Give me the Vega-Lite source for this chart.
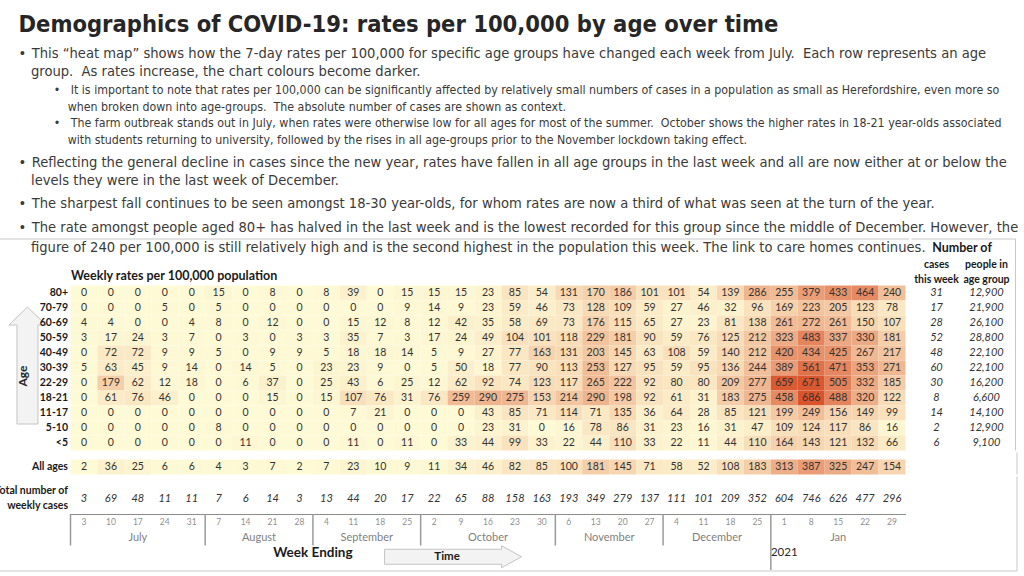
{
"$schema": "https://vega.github.io/schema/vega-lite/v6.json",
"background": "white",
"padding": {"left": -8.5, "top": 12.5, "right": 0, "bottom": 0},
"config": {"view": {"stroke": null}, "axis": {"grid": false, "labelFont": "Lato", "titleFont": "Lato"}},
"title": {
  "text": "Demographics of COVID-19: rates per 100,000 by age over time",
  "subtitle": ["•\u00a0\u200aThis “heat map” shows how the 7-day rates per 100,000 for specific age groups have changed each week from July.\u00a0 Each row represents an age", "\u200b\u00a0\u00a0\u00a0group.\u00a0 As rates increase, the chart colours become darker."],
  "anchor": "start", "frame": "group", "dx": -52,
  "font": "Liberation Sans Narrow, DejaVu Sans Condensed, Liberation Sans", "fontSize": 23.5, "fontWeight": "bold", "color": "#262626",
  "subtitleFont": "Liberation Sans Narrow, DejaVu Sans Condensed, Liberation Sans", "subtitleFontSize": 14.6, "subtitleColor": "#3a3a3a", "subtitleLineHeight": 18, "subtitlePadding": 9,
  "offset": 6
},
"datasets": {
  "heat": [
{"age":"80+","week":"2020-07-03","rate":0},{"age":"80+","week":"2020-07-10","rate":0},{"age":"80+","week":"2020-07-17","rate":0},{"age":"80+","week":"2020-07-24","rate":0},{"age":"80+","week":"2020-07-31","rate":0},{"age":"80+","week":"2020-08-07","rate":15},{"age":"80+","week":"2020-08-14","rate":0},{"age":"80+","week":"2020-08-21","rate":8},{"age":"80+","week":"2020-08-28","rate":0},{"age":"80+","week":"2020-09-04","rate":8},{"age":"80+","week":"2020-09-11","rate":39},{"age":"80+","week":"2020-09-18","rate":0},{"age":"80+","week":"2020-09-25","rate":15},{"age":"80+","week":"2020-10-02","rate":15},{"age":"80+","week":"2020-10-09","rate":15},{"age":"80+","week":"2020-10-16","rate":23},{"age":"80+","week":"2020-10-23","rate":85},{"age":"80+","week":"2020-10-30","rate":54},{"age":"80+","week":"2020-11-06","rate":131},{"age":"80+","week":"2020-11-13","rate":170},{"age":"80+","week":"2020-11-20","rate":186},{"age":"80+","week":"2020-11-27","rate":101},{"age":"80+","week":"2020-12-04","rate":101},{"age":"80+","week":"2020-12-11","rate":54},{"age":"80+","week":"2020-12-18","rate":139},{"age":"80+","week":"2020-12-25","rate":286},{"age":"80+","week":"2021-01-01","rate":255},{"age":"80+","week":"2021-01-08","rate":379},{"age":"80+","week":"2021-01-15","rate":433},{"age":"80+","week":"2021-01-22","rate":464},{"age":"80+","week":"2021-01-29","rate":240},
{"age":"70-79","week":"2020-07-03","rate":0},{"age":"70-79","week":"2020-07-10","rate":0},{"age":"70-79","week":"2020-07-17","rate":0},{"age":"70-79","week":"2020-07-24","rate":5},{"age":"70-79","week":"2020-07-31","rate":0},{"age":"70-79","week":"2020-08-07","rate":5},{"age":"70-79","week":"2020-08-14","rate":0},{"age":"70-79","week":"2020-08-21","rate":0},{"age":"70-79","week":"2020-08-28","rate":0},{"age":"70-79","week":"2020-09-04","rate":0},{"age":"70-79","week":"2020-09-11","rate":0},{"age":"70-79","week":"2020-09-18","rate":0},{"age":"70-79","week":"2020-09-25","rate":9},{"age":"70-79","week":"2020-10-02","rate":14},{"age":"70-79","week":"2020-10-09","rate":9},{"age":"70-79","week":"2020-10-16","rate":23},{"age":"70-79","week":"2020-10-23","rate":59},{"age":"70-79","week":"2020-10-30","rate":46},{"age":"70-79","week":"2020-11-06","rate":73},{"age":"70-79","week":"2020-11-13","rate":128},{"age":"70-79","week":"2020-11-20","rate":109},{"age":"70-79","week":"2020-11-27","rate":59},{"age":"70-79","week":"2020-12-04","rate":27},{"age":"70-79","week":"2020-12-11","rate":46},{"age":"70-79","week":"2020-12-18","rate":32},{"age":"70-79","week":"2020-12-25","rate":96},{"age":"70-79","week":"2021-01-01","rate":169},{"age":"70-79","week":"2021-01-08","rate":223},{"age":"70-79","week":"2021-01-15","rate":205},{"age":"70-79","week":"2021-01-22","rate":123},{"age":"70-79","week":"2021-01-29","rate":78},
{"age":"60-69","week":"2020-07-03","rate":4},{"age":"60-69","week":"2020-07-10","rate":4},{"age":"60-69","week":"2020-07-17","rate":0},{"age":"60-69","week":"2020-07-24","rate":0},{"age":"60-69","week":"2020-07-31","rate":4},{"age":"60-69","week":"2020-08-07","rate":8},{"age":"60-69","week":"2020-08-14","rate":0},{"age":"60-69","week":"2020-08-21","rate":12},{"age":"60-69","week":"2020-08-28","rate":0},{"age":"60-69","week":"2020-09-04","rate":0},{"age":"60-69","week":"2020-09-11","rate":15},{"age":"60-69","week":"2020-09-18","rate":12},{"age":"60-69","week":"2020-09-25","rate":8},{"age":"60-69","week":"2020-10-02","rate":12},{"age":"60-69","week":"2020-10-09","rate":42},{"age":"60-69","week":"2020-10-16","rate":35},{"age":"60-69","week":"2020-10-23","rate":58},{"age":"60-69","week":"2020-10-30","rate":69},{"age":"60-69","week":"2020-11-06","rate":73},{"age":"60-69","week":"2020-11-13","rate":176},{"age":"60-69","week":"2020-11-20","rate":115},{"age":"60-69","week":"2020-11-27","rate":65},{"age":"60-69","week":"2020-12-04","rate":27},{"age":"60-69","week":"2020-12-11","rate":23},{"age":"60-69","week":"2020-12-18","rate":81},{"age":"60-69","week":"2020-12-25","rate":138},{"age":"60-69","week":"2021-01-01","rate":261},{"age":"60-69","week":"2021-01-08","rate":272},{"age":"60-69","week":"2021-01-15","rate":261},{"age":"60-69","week":"2021-01-22","rate":150},{"age":"60-69","week":"2021-01-29","rate":107},
{"age":"50-59","week":"2020-07-03","rate":3},{"age":"50-59","week":"2020-07-10","rate":17},{"age":"50-59","week":"2020-07-17","rate":24},{"age":"50-59","week":"2020-07-24","rate":3},{"age":"50-59","week":"2020-07-31","rate":7},{"age":"50-59","week":"2020-08-07","rate":0},{"age":"50-59","week":"2020-08-14","rate":3},{"age":"50-59","week":"2020-08-21","rate":0},{"age":"50-59","week":"2020-08-28","rate":3},{"age":"50-59","week":"2020-09-04","rate":3},{"age":"50-59","week":"2020-09-11","rate":35},{"age":"50-59","week":"2020-09-18","rate":7},{"age":"50-59","week":"2020-09-25","rate":3},{"age":"50-59","week":"2020-10-02","rate":17},{"age":"50-59","week":"2020-10-09","rate":24},{"age":"50-59","week":"2020-10-16","rate":49},{"age":"50-59","week":"2020-10-23","rate":104},{"age":"50-59","week":"2020-10-30","rate":101},{"age":"50-59","week":"2020-11-06","rate":118},{"age":"50-59","week":"2020-11-13","rate":229},{"age":"50-59","week":"2020-11-20","rate":181},{"age":"50-59","week":"2020-11-27","rate":90},{"age":"50-59","week":"2020-12-04","rate":59},{"age":"50-59","week":"2020-12-11","rate":76},{"age":"50-59","week":"2020-12-18","rate":125},{"age":"50-59","week":"2020-12-25","rate":212},{"age":"50-59","week":"2021-01-01","rate":323},{"age":"50-59","week":"2021-01-08","rate":483},{"age":"50-59","week":"2021-01-15","rate":337},{"age":"50-59","week":"2021-01-22","rate":330},{"age":"50-59","week":"2021-01-29","rate":181},
{"age":"40-49","week":"2020-07-03","rate":0},{"age":"40-49","week":"2020-07-10","rate":72},{"age":"40-49","week":"2020-07-17","rate":72},{"age":"40-49","week":"2020-07-24","rate":9},{"age":"40-49","week":"2020-07-31","rate":9},{"age":"40-49","week":"2020-08-07","rate":5},{"age":"40-49","week":"2020-08-14","rate":0},{"age":"40-49","week":"2020-08-21","rate":9},{"age":"40-49","week":"2020-08-28","rate":9},{"age":"40-49","week":"2020-09-04","rate":5},{"age":"40-49","week":"2020-09-11","rate":18},{"age":"40-49","week":"2020-09-18","rate":18},{"age":"40-49","week":"2020-09-25","rate":14},{"age":"40-49","week":"2020-10-02","rate":5},{"age":"40-49","week":"2020-10-09","rate":9},{"age":"40-49","week":"2020-10-16","rate":27},{"age":"40-49","week":"2020-10-23","rate":77},{"age":"40-49","week":"2020-10-30","rate":163},{"age":"40-49","week":"2020-11-06","rate":131},{"age":"40-49","week":"2020-11-13","rate":203},{"age":"40-49","week":"2020-11-20","rate":145},{"age":"40-49","week":"2020-11-27","rate":63},{"age":"40-49","week":"2020-12-04","rate":108},{"age":"40-49","week":"2020-12-11","rate":59},{"age":"40-49","week":"2020-12-18","rate":140},{"age":"40-49","week":"2020-12-25","rate":212},{"age":"40-49","week":"2021-01-01","rate":420},{"age":"40-49","week":"2021-01-08","rate":434},{"age":"40-49","week":"2021-01-15","rate":425},{"age":"40-49","week":"2021-01-22","rate":267},{"age":"40-49","week":"2021-01-29","rate":217},
{"age":"30-39","week":"2020-07-03","rate":5},{"age":"30-39","week":"2020-07-10","rate":63},{"age":"30-39","week":"2020-07-17","rate":45},{"age":"30-39","week":"2020-07-24","rate":9},{"age":"30-39","week":"2020-07-31","rate":14},{"age":"30-39","week":"2020-08-07","rate":0},{"age":"30-39","week":"2020-08-14","rate":14},{"age":"30-39","week":"2020-08-21","rate":5},{"age":"30-39","week":"2020-08-28","rate":0},{"age":"30-39","week":"2020-09-04","rate":23},{"age":"30-39","week":"2020-09-11","rate":23},{"age":"30-39","week":"2020-09-18","rate":9},{"age":"30-39","week":"2020-09-25","rate":0},{"age":"30-39","week":"2020-10-02","rate":5},{"age":"30-39","week":"2020-10-09","rate":50},{"age":"30-39","week":"2020-10-16","rate":18},{"age":"30-39","week":"2020-10-23","rate":77},{"age":"30-39","week":"2020-10-30","rate":90},{"age":"30-39","week":"2020-11-06","rate":113},{"age":"30-39","week":"2020-11-13","rate":253},{"age":"30-39","week":"2020-11-20","rate":127},{"age":"30-39","week":"2020-11-27","rate":95},{"age":"30-39","week":"2020-12-04","rate":59},{"age":"30-39","week":"2020-12-11","rate":95},{"age":"30-39","week":"2020-12-18","rate":136},{"age":"30-39","week":"2020-12-25","rate":244},{"age":"30-39","week":"2021-01-01","rate":389},{"age":"30-39","week":"2021-01-08","rate":561},{"age":"30-39","week":"2021-01-15","rate":471},{"age":"30-39","week":"2021-01-22","rate":353},{"age":"30-39","week":"2021-01-29","rate":271},
{"age":"22-29","week":"2020-07-03","rate":0},{"age":"22-29","week":"2020-07-10","rate":179},{"age":"22-29","week":"2020-07-17","rate":62},{"age":"22-29","week":"2020-07-24","rate":12},{"age":"22-29","week":"2020-07-31","rate":18},{"age":"22-29","week":"2020-08-07","rate":0},{"age":"22-29","week":"2020-08-14","rate":6},{"age":"22-29","week":"2020-08-21","rate":37},{"age":"22-29","week":"2020-08-28","rate":0},{"age":"22-29","week":"2020-09-04","rate":25},{"age":"22-29","week":"2020-09-11","rate":43},{"age":"22-29","week":"2020-09-18","rate":6},{"age":"22-29","week":"2020-09-25","rate":25},{"age":"22-29","week":"2020-10-02","rate":12},{"age":"22-29","week":"2020-10-09","rate":62},{"age":"22-29","week":"2020-10-16","rate":92},{"age":"22-29","week":"2020-10-23","rate":74},{"age":"22-29","week":"2020-10-30","rate":123},{"age":"22-29","week":"2020-11-06","rate":117},{"age":"22-29","week":"2020-11-13","rate":265},{"age":"22-29","week":"2020-11-20","rate":222},{"age":"22-29","week":"2020-11-27","rate":92},{"age":"22-29","week":"2020-12-04","rate":80},{"age":"22-29","week":"2020-12-11","rate":80},{"age":"22-29","week":"2020-12-18","rate":209},{"age":"22-29","week":"2020-12-25","rate":277},{"age":"22-29","week":"2021-01-01","rate":659},{"age":"22-29","week":"2021-01-08","rate":671},{"age":"22-29","week":"2021-01-15","rate":505},{"age":"22-29","week":"2021-01-22","rate":332},{"age":"22-29","week":"2021-01-29","rate":185},
{"age":"18-21","week":"2020-07-03","rate":0},{"age":"18-21","week":"2020-07-10","rate":61},{"age":"18-21","week":"2020-07-17","rate":76},{"age":"18-21","week":"2020-07-24","rate":46},{"age":"18-21","week":"2020-07-31","rate":0},{"age":"18-21","week":"2020-08-07","rate":0},{"age":"18-21","week":"2020-08-14","rate":0},{"age":"18-21","week":"2020-08-21","rate":15},{"age":"18-21","week":"2020-08-28","rate":0},{"age":"18-21","week":"2020-09-04","rate":15},{"age":"18-21","week":"2020-09-11","rate":107},{"age":"18-21","week":"2020-09-18","rate":76},{"age":"18-21","week":"2020-09-25","rate":31},{"age":"18-21","week":"2020-10-02","rate":76},{"age":"18-21","week":"2020-10-09","rate":259},{"age":"18-21","week":"2020-10-16","rate":290},{"age":"18-21","week":"2020-10-23","rate":275},{"age":"18-21","week":"2020-10-30","rate":153},{"age":"18-21","week":"2020-11-06","rate":214},{"age":"18-21","week":"2020-11-13","rate":290},{"age":"18-21","week":"2020-11-20","rate":198},{"age":"18-21","week":"2020-11-27","rate":92},{"age":"18-21","week":"2020-12-04","rate":61},{"age":"18-21","week":"2020-12-11","rate":31},{"age":"18-21","week":"2020-12-18","rate":183},{"age":"18-21","week":"2020-12-25","rate":275},{"age":"18-21","week":"2021-01-01","rate":458},{"age":"18-21","week":"2021-01-08","rate":686},{"age":"18-21","week":"2021-01-15","rate":488},{"age":"18-21","week":"2021-01-22","rate":320},{"age":"18-21","week":"2021-01-29","rate":122},
{"age":"11-17","week":"2020-07-03","rate":0},{"age":"11-17","week":"2020-07-10","rate":0},{"age":"11-17","week":"2020-07-17","rate":0},{"age":"11-17","week":"2020-07-24","rate":0},{"age":"11-17","week":"2020-07-31","rate":0},{"age":"11-17","week":"2020-08-07","rate":0},{"age":"11-17","week":"2020-08-14","rate":0},{"age":"11-17","week":"2020-08-21","rate":0},{"age":"11-17","week":"2020-08-28","rate":0},{"age":"11-17","week":"2020-09-04","rate":0},{"age":"11-17","week":"2020-09-11","rate":7},{"age":"11-17","week":"2020-09-18","rate":21},{"age":"11-17","week":"2020-09-25","rate":0},{"age":"11-17","week":"2020-10-02","rate":0},{"age":"11-17","week":"2020-10-09","rate":0},{"age":"11-17","week":"2020-10-16","rate":43},{"age":"11-17","week":"2020-10-23","rate":85},{"age":"11-17","week":"2020-10-30","rate":71},{"age":"11-17","week":"2020-11-06","rate":114},{"age":"11-17","week":"2020-11-13","rate":71},{"age":"11-17","week":"2020-11-20","rate":135},{"age":"11-17","week":"2020-11-27","rate":36},{"age":"11-17","week":"2020-12-04","rate":64},{"age":"11-17","week":"2020-12-11","rate":28},{"age":"11-17","week":"2020-12-18","rate":85},{"age":"11-17","week":"2020-12-25","rate":121},{"age":"11-17","week":"2021-01-01","rate":199},{"age":"11-17","week":"2021-01-08","rate":249},{"age":"11-17","week":"2021-01-15","rate":156},{"age":"11-17","week":"2021-01-22","rate":149},{"age":"11-17","week":"2021-01-29","rate":99},
{"age":"5-10","week":"2020-07-03","rate":0},{"age":"5-10","week":"2020-07-10","rate":0},{"age":"5-10","week":"2020-07-17","rate":0},{"age":"5-10","week":"2020-07-24","rate":0},{"age":"5-10","week":"2020-07-31","rate":0},{"age":"5-10","week":"2020-08-07","rate":8},{"age":"5-10","week":"2020-08-14","rate":0},{"age":"5-10","week":"2020-08-21","rate":0},{"age":"5-10","week":"2020-08-28","rate":0},{"age":"5-10","week":"2020-09-04","rate":0},{"age":"5-10","week":"2020-09-11","rate":0},{"age":"5-10","week":"2020-09-18","rate":0},{"age":"5-10","week":"2020-09-25","rate":0},{"age":"5-10","week":"2020-10-02","rate":0},{"age":"5-10","week":"2020-10-09","rate":0},{"age":"5-10","week":"2020-10-16","rate":23},{"age":"5-10","week":"2020-10-23","rate":31},{"age":"5-10","week":"2020-10-30","rate":0},{"age":"5-10","week":"2020-11-06","rate":16},{"age":"5-10","week":"2020-11-13","rate":78},{"age":"5-10","week":"2020-11-20","rate":86},{"age":"5-10","week":"2020-11-27","rate":31},{"age":"5-10","week":"2020-12-04","rate":23},{"age":"5-10","week":"2020-12-11","rate":16},{"age":"5-10","week":"2020-12-18","rate":31},{"age":"5-10","week":"2020-12-25","rate":47},{"age":"5-10","week":"2021-01-01","rate":109},{"age":"5-10","week":"2021-01-08","rate":124},{"age":"5-10","week":"2021-01-15","rate":117},{"age":"5-10","week":"2021-01-22","rate":86},{"age":"5-10","week":"2021-01-29","rate":16},
{"age":"<5","week":"2020-07-03","rate":0},{"age":"<5","week":"2020-07-10","rate":0},{"age":"<5","week":"2020-07-17","rate":0},{"age":"<5","week":"2020-07-24","rate":0},{"age":"<5","week":"2020-07-31","rate":0},{"age":"<5","week":"2020-08-07","rate":0},{"age":"<5","week":"2020-08-14","rate":11},{"age":"<5","week":"2020-08-21","rate":0},{"age":"<5","week":"2020-08-28","rate":0},{"age":"<5","week":"2020-09-04","rate":0},{"age":"<5","week":"2020-09-11","rate":11},{"age":"<5","week":"2020-09-18","rate":0},{"age":"<5","week":"2020-09-25","rate":11},{"age":"<5","week":"2020-10-02","rate":0},{"age":"<5","week":"2020-10-09","rate":33},{"age":"<5","week":"2020-10-16","rate":44},{"age":"<5","week":"2020-10-23","rate":99},{"age":"<5","week":"2020-10-30","rate":33},{"age":"<5","week":"2020-11-06","rate":22},{"age":"<5","week":"2020-11-13","rate":44},{"age":"<5","week":"2020-11-20","rate":110},{"age":"<5","week":"2020-11-27","rate":33},{"age":"<5","week":"2020-12-04","rate":22},{"age":"<5","week":"2020-12-11","rate":11},{"age":"<5","week":"2020-12-18","rate":44},{"age":"<5","week":"2020-12-25","rate":110},{"age":"<5","week":"2021-01-01","rate":164},{"age":"<5","week":"2021-01-08","rate":143},{"age":"<5","week":"2021-01-15","rate":121},{"age":"<5","week":"2021-01-22","rate":132},{"age":"<5","week":"2021-01-29","rate":66}
  ],
  "weeks": [
{"week":"2020-07-03","day":3,"all":2,"total":3},{"week":"2020-07-10","day":10,"all":36,"total":69},{"week":"2020-07-17","day":17,"all":25,"total":48},{"week":"2020-07-24","day":24,"all":6,"total":11},{"week":"2020-07-31","day":31,"all":6,"total":11},
{"week":"2020-08-07","day":7,"all":4,"total":7},{"week":"2020-08-14","day":14,"all":3,"total":6},{"week":"2020-08-21","day":21,"all":7,"total":14},{"week":"2020-08-28","day":28,"all":2,"total":3},
{"week":"2020-09-04","day":4,"all":7,"total":13},{"week":"2020-09-11","day":11,"all":23,"total":44},{"week":"2020-09-18","day":18,"all":10,"total":20},{"week":"2020-09-25","day":25,"all":9,"total":17},
{"week":"2020-10-02","day":2,"all":11,"total":22},{"week":"2020-10-09","day":9,"all":34,"total":65},{"week":"2020-10-16","day":16,"all":46,"total":88},{"week":"2020-10-23","day":23,"all":82,"total":158},{"week":"2020-10-30","day":30,"all":85,"total":163},
{"week":"2020-11-06","day":6,"all":100,"total":193},{"week":"2020-11-13","day":13,"all":181,"total":349},{"week":"2020-11-20","day":20,"all":145,"total":279},{"week":"2020-11-27","day":27,"all":71,"total":137},
{"week":"2020-12-04","day":4,"all":58,"total":111},{"week":"2020-12-11","day":11,"all":52,"total":101},{"week":"2020-12-18","day":18,"all":108,"total":209},{"week":"2020-12-25","day":25,"all":183,"total":352},
{"week":"2021-01-01","day":1,"all":313,"total":604},{"week":"2021-01-08","day":8,"all":387,"total":746},{"week":"2021-01-15","day":15,"all":325,"total":626},{"week":"2021-01-22","day":22,"all":247,"total":477},{"week":"2021-01-29","day":29,"all":154,"total":296}
  ],
  "ages": [
{"age":"80+","cases":31,"people":12900},{"age":"70-79","cases":17,"people":21900},{"age":"60-69","cases":28,"people":26100},{"age":"50-59","cases":52,"people":28800},{"age":"40-49","cases":48,"people":22100},{"age":"30-39","cases":60,"people":22100},{"age":"22-29","cases":30,"people":16200},{"age":"18-21","cases":8,"people":6600},{"age":"11-17","cases":14,"people":14100},{"age":"5-10","cases":2,"people":12900},{"age":"<5","cases":6,"people":9100}
  ],
  "months": [
{"month":"July","first":"2020-07-03","mid":"2020-07-17","n":5},{"month":"August","first":"2020-08-07","mid":"2020-08-21","n":4},{"month":"September","first":"2020-09-04","mid":"2020-09-18","n":4},{"month":"October","first":"2020-10-02","mid":"2020-10-16","n":5},{"month":"November","first":"2020-11-06","mid":"2020-11-20","n":4},{"month":"December","first":"2020-12-04","mid":"2020-12-18","n":4},{"month":"Jan","first":"2021-01-01","mid":"2021-01-15","n":5}
  ]
},
"spacing": 0,
"vconcat": [
  {
    "width": 10, "height": 8,
    "data": {"values": []},
    "mark": "text",
    "title": {
      "text": ["\u200b\u00a0\u00a0\u00a0\u00a0\u00a0\u00a0\u00a0\u00a0\u00a0\u00a0•\u00a0\u00a0\u00a0It is important to note that rates per 100,000 can be significantly affected by relatively small numbers of cases in a population as small as Herefordshire, even more so",
               "\u200b\u00a0\u00a0\u00a0\u00a0\u00a0\u00a0\u00a0\u00a0\u00a0\u00a0\u00a0\u00a0\u00a0\u00a0when broken down into age-groups.\u00a0 The absolute number of cases are shown as context.",
               "\u200b\u00a0\u00a0\u00a0\u00a0\u00a0\u00a0\u00a0\u00a0\u00a0\u00a0•\u00a0\u00a0\u00a0The farm outbreak stands out in July, when rates were otherwise low for all ages for most of the summer.\u00a0 October shows the higher rates in 18-21 year-olds associated",
               "\u200b\u00a0\u00a0\u00a0\u00a0\u00a0\u00a0\u00a0\u00a0\u00a0\u00a0\u00a0\u00a0\u00a0\u00a0with students returning to university, followed by the rises in all age-groups prior to the November lockdown taking effect."],
      "subtitle": ["•\u00a0\u200aReflecting the general decline in cases since the new year, rates have fallen in all age groups in the last week and all are now either at or below the",
                   "\u200b\u00a0\u00a0\u00a0levels they were in the last week of December."],
      "anchor": "start", "frame": "group", "dx": -52,
      "font": "Liberation Sans Narrow, DejaVu Sans Condensed, Liberation Sans", "fontSize": 12.3, "fontWeight": "normal", "color": "#3a3a3a", "lineHeight": 16.5,
      "subtitleFont": "Liberation Sans Narrow, DejaVu Sans Condensed, Liberation Sans", "subtitleFontSize": 14.6, "subtitleColor": "#3a3a3a", "subtitleLineHeight": 18, "subtitlePadding": 9,
      "offset": 0
    }
  },
  {
    "title": {
      "text": ["•\u00a0\u200aThe sharpest fall continues to be seen amongst 18-30 year-olds, for whom rates are now a third of what was seen at the turn of the year."],
      "subtitle": ["•\u00a0\u200aThe rate amongst people aged 80+ has halved in the last week and is the lowest recorded for this group since the middle of December. However, the",
                   "\u200b\u00a0\u00a0\u00a0figure of 240 per 100,000 is still relatively high and is the second highest in the population this week. The link to care homes continues."],
      "anchor": "start", "frame": "group", "dx": -52,
      "font": "Liberation Sans Narrow, DejaVu Sans Condensed, Liberation Sans", "fontSize": 14.6, "fontWeight": "normal", "color": "#3a3a3a", "lineHeight": 18,
      "subtitleFont": "Liberation Sans Narrow, DejaVu Sans Condensed, Liberation Sans", "subtitleFontSize": 14.6, "subtitleColor": "#3a3a3a", "subtitleLineHeight": 20, "subtitlePadding": 9,
      "offset": -16
    },
    "spacing": 0,
    "hconcat": [
      {
        "width": 835, "height": 165,
        "data": {"name": "heat"},
        "layer": [
          {
            "mark": {"type": "rect"},
            "encoding": {
              "x": {"field": "week", "type": "ordinal",
                    "scale": {"type": "band", "paddingInner": 0, "paddingOuter": 0, "domain": ["2020-07-03","2020-07-10","2020-07-17","2020-07-24","2020-07-31","2020-08-07","2020-08-14","2020-08-21","2020-08-28","2020-09-04","2020-09-11","2020-09-18","2020-09-25","2020-10-02","2020-10-09","2020-10-16","2020-10-23","2020-10-30","2020-11-06","2020-11-13","2020-11-20","2020-11-27","2020-12-04","2020-12-11","2020-12-18","2020-12-25","2021-01-01","2021-01-08","2021-01-15","2021-01-22","2021-01-29"]},
                    "axis": {"orient": "top", "title": "Weekly rates per 100,000 population", "labels": false, "ticks": false, "domain": false, "titleAnchor": "start", "titleAlign": "left", "titleFont": "Lato", "titleFontSize": 12.5, "titleFontWeight": "bold", "titleColor": "#1a1a1a", "titlePadding": 3}},
              "y": {"field": "age", "type": "ordinal",
                    "scale": {"type": "band", "paddingInner": 0, "paddingOuter": 0, "domain": ["80+","70-79","60-69","50-59","40-49","30-39","22-29","18-21","11-17","5-10","<5"]},
                    "axis": {"title": null, "ticks": false, "domain": false, "labelFont": "Lato", "labelFontSize": 10.5, "labelFontWeight": "bold", "labelColor": "#1a1a1a", "labelPadding": 3}},
              "color": {"field": "rate", "type": "quantitative", "scale": {"domain": [0, 686], "range": ["#fefad6", "#d9542b"], "interpolate": "rgb"}, "legend": null}
            }
          },
          {
            "mark": {"type": "text", "font": "Lato", "fontSize": 10.5, "color": "#333333"},
            "encoding": {
              "x": {"field": "week", "type": "ordinal"},
              "y": {"field": "age", "type": "ordinal"},
              "text": {"field": "rate", "type": "quantitative"}
            }
          },
          {
            "data": {"values": [{"label": "Age"}]},
            "mark": {"type": "point", "shape": "M0,-5.85L1.85,-4.05L1.05,-4.05L1.05,5.85L-1.05,5.85L-1.05,-4.05L-1.85,-4.05Z", "size": 400, "filled": true, "fill": "#f3f3f3", "stroke": "#c4c4c4", "strokeWidth": 1, "opacity": 1, "xOffset": -56.5, "yOffset": -17.5},
            "encoding": {"x": {"datum": "2020-07-03", "type": "ordinal"}, "y": {"datum": "22-29", "type": "ordinal"}}
          },
          {
            "data": {"values": [{"label": "Age"}]},
            "mark": {"type": "text", "angle": 270, "font": "Lato", "fontWeight": "bold", "fontSize": 12, "color": "#262626", "xOffset": -61, "yOffset": -7},
            "encoding": {"x": {"datum": "2020-07-03", "type": "ordinal"}, "y": {"datum": "22-29", "type": "ordinal"}, "text": {"field": "label"}}
          },
          {
            "data": {"values": [{"label": "frame"}]},
            "mark": {"type": "rule", "color": "#c8c8c8", "strokeWidth": 1, "xOffset": -78, "yOffset": -54, "x2Offset": 17},
            "encoding": {"x": {"datum": "2020-07-03", "type": "ordinal", "bandPosition": 0}, "x2": {"datum": "2021-01-29"}, "y": {"datum": "80+", "type": "ordinal"}}
          }
        ]
      },
      {
        "width": 100, "height": 165,
        "data": {"name": "ages"},
        "layer": [
          {
            "mark": {"type": "text", "font": "Lato", "fontStyle": "italic", "fontSize": 11, "color": "#333333"},
            "encoding": {
              "x": {"datum": "cases", "type": "nominal",
                    "scale": {"type": "band", "domain": ["cases", "people"], "paddingInner": 0, "paddingOuter": 0},
                    "axis": {"orient": "top", "title": "Number of", "titleFont": "Lato", "titleFontSize": 12.5, "titleFontWeight": "bold", "titleColor": "#1a1a1a", "titlePadding": 5,
                             "ticks": false, "domain": false, "labelAngle": 0, "labelFont": "Lato", "labelFontSize": 10.5, "labelFontWeight": "bold", "labelColor": "#1a1a1a", "labelPadding": 16.5, "labelLineHeight": 15,
                             "labelExpr": "datum.value == 'cases' ? ['cases', 'this week'] : ['people in', 'age group']"}},
              "y": {"field": "age", "type": "ordinal", "scale": {"type": "band", "paddingInner": 0, "paddingOuter": 0, "domain": ["80+","70-79","60-69","50-59","40-49","30-39","22-29","18-21","11-17","5-10","<5"]}, "axis": null},
              "text": {"field": "cases", "type": "quantitative"}
            }
          },
          {
            "mark": {"type": "text", "font": "Lato", "fontStyle": "italic", "fontSize": 11, "color": "#333333"},
            "encoding": {
              "x": {"datum": "people", "type": "nominal"},
              "y": {"field": "age", "type": "ordinal"},
              "text": {"field": "people", "type": "quantitative", "format": ","}
            }
          },
          {
            "data": {"values": [{"label": "frame"}]},
            "mark": {"type": "rule", "color": "#c8c8c8", "strokeWidth": 1, "yOffset": -54, "x2Offset": 29},
            "encoding": {"x": {"datum": "cases", "type": "nominal", "bandPosition": 0}, "x2": {"datum": "people"}, "y": {"datum": "80+", "type": "ordinal"}}
          },
          {
            "data": {"values": [{"label": "frame"}]},
            "mark": {"type": "rule", "color": "#c8c8c8", "strokeWidth": 1, "xOffset": 4, "yOffset": -54, "y2Offset": 7.5},
            "encoding": {"x": {"datum": "people", "type": "nominal", "bandPosition": 1}, "y": {"datum": "80+", "type": "ordinal"}, "y2": {"datum": "<5"}}
          }
        ]
      }
    ]
  },
  {
    "width": 835, "height": 22,
    "data": {"name": "weeks"},
    "layer": [
      {
        "mark": {"type": "rect"},
        "encoding": {
          "x": {"field": "week", "type": "ordinal",
                "scale": {"type": "band", "paddingInner": 0, "paddingOuter": 0, "domain": ["2020-07-03","2020-07-10","2020-07-17","2020-07-24","2020-07-31","2020-08-07","2020-08-14","2020-08-21","2020-08-28","2020-09-04","2020-09-11","2020-09-18","2020-09-25","2020-10-02","2020-10-09","2020-10-16","2020-10-23","2020-10-30","2020-11-06","2020-11-13","2020-11-20","2020-11-27","2020-12-04","2020-12-11","2020-12-18","2020-12-25","2021-01-01","2021-01-08","2021-01-15","2021-01-22","2021-01-29"]},
                "axis": null},
          "y": {"datum": "All ages", "type": "ordinal", "scale": {"type": "band", "domain": ["All ages"], "paddingInner": 0, "paddingOuter": 0.2333, "align": 1},
                "axis": {"title": null, "ticks": false, "domain": false, "labelFont": "Lato", "labelFontSize": 10.5, "labelFontWeight": "bold", "labelColor": "#1a1a1a", "labelPadding": 3}},
          "color": {"field": "all", "type": "quantitative", "scale": {"domain": [0, 686], "range": ["#fefad6", "#d9542b"], "interpolate": "rgb"}, "legend": null}
        }
      },
      {
        "mark": {"type": "text", "font": "Lato", "fontSize": 10.5, "color": "#333333"},
        "encoding": {
          "x": {"field": "week", "type": "ordinal"},
          "y": {"datum": "All ages", "type": "ordinal"},
          "text": {"field": "all", "type": "quantitative"}
        }
      },
      {
        "data": {"values": [{"label": "frame"}]},
        "mark": {"type": "rule", "color": "#c8c8c8", "strokeWidth": 1, "xOffset": 111.5, "yOffset": -14.5, "y2Offset": 7.5},
        "encoding": {"x": {"datum": "2021-01-29", "type": "ordinal", "bandPosition": 1}, "y": {"datum": "All ages", "type": "ordinal"}, "y2": {"datum": "All ages"}}
      }
    ]
  },
  {
    "width": 835, "height": 84.5,
    "data": {"name": "weeks"},
    "layer": [
      {
        "mark": {"type": "text", "font": "Lato", "fontStyle": "italic", "fontSize": 11, "color": "#333333"},
        "encoding": {
          "x": {"field": "week", "type": "ordinal",
                "scale": {"type": "band", "paddingInner": 0, "paddingOuter": 0, "domain": ["2020-07-03","2020-07-10","2020-07-17","2020-07-24","2020-07-31","2020-08-07","2020-08-14","2020-08-21","2020-08-28","2020-09-04","2020-09-11","2020-09-18","2020-09-25","2020-10-02","2020-10-09","2020-10-16","2020-10-23","2020-10-30","2020-11-06","2020-11-13","2020-11-20","2020-11-27","2020-12-04","2020-12-11","2020-12-18","2020-12-25","2021-01-01","2021-01-08","2021-01-15","2021-01-22","2021-01-29"]},
                "axis": null},
          "y": {"datum": "t1", "type": "ordinal", "bandPosition": 1,
                "scale": {"type": "band", "domain": ["t1", "t2", "day", "month", "we"], "paddingInner": 0, "paddingOuter": 0.2258, "align": 1},
                "axis": {"title": null, "ticks": false, "domain": false, "bandPosition": 1, "labelFont": "Lato", "labelFontSize": 10.5, "labelFontWeight": "bold", "labelColor": "#1a1a1a", "labelPadding": 3, "labelLineHeight": 15,
                         "labelExpr": "datum.value == 't1' ? ['Total number of', 'weekly cases'] : ''"}},
          "text": {"field": "total", "type": "quantitative"}
        }
      },
      {
        "mark": {"type": "text", "font": "Lato", "fontSize": 8.5, "color": "#8f8f8f"},
        "encoding": {
          "x": {"field": "week", "type": "ordinal"},
          "y": {"datum": "day", "type": "ordinal"},
          "text": {"field": "day", "type": "quantitative"}
        }
      },
      {
        "mark": {"type": "tick", "orient": "horizontal", "thickness": 1, "size": 28, "color": "#8c8c8c", "opacity": 1, "yOffset": -7.75},
        "encoding": {
          "x": {"field": "week", "type": "ordinal"},
          "y": {"datum": "day", "type": "ordinal"}
        }
      },
      {
        "data": {"name": "months"},
        "transform": [{"filter": "datum.month != 'Jan'"}],
        "mark": {"type": "rule", "color": "#9a9a9a", "strokeWidth": 1.5, "yOffset": -7.75, "y2Offset": 7.75},
        "encoding": {
          "x": {"field": "first", "type": "ordinal", "bandPosition": 0},
          "y": {"datum": "day", "type": "ordinal"},
          "y2": {"datum": "month"}
        }
      },
      {
        "data": {"name": "months"},
        "transform": [{"filter": "datum.month == 'Jan'"}],
        "mark": {"type": "rule", "color": "#9a9a9a", "strokeWidth": 1.5, "yOffset": -7.75, "y2Offset": 16.75},
        "encoding": {
          "x": {"field": "first", "type": "ordinal", "bandPosition": 0},
          "y": {"datum": "day", "type": "ordinal"},
          "y2": {"datum": "we"}
        }
      },
      {
        "data": {"name": "months"},
        "transform": [{"filter": "datum.n % 2 == 1"}],
        "mark": {"type": "text", "font": "Lato", "fontSize": 11, "color": "#7f7f7f"},
        "encoding": {
          "x": {"field": "mid", "type": "ordinal", "bandPosition": 0.5},
          "y": {"datum": "month", "type": "ordinal"},
          "text": {"field": "month"}
        }
      },
      {
        "data": {"name": "months"},
        "transform": [{"filter": "datum.n % 2 == 0"}],
        "mark": {"type": "text", "font": "Lato", "fontSize": 11, "color": "#7f7f7f"},
        "encoding": {
          "x": {"field": "mid", "type": "ordinal", "bandPosition": 0},
          "y": {"datum": "month", "type": "ordinal"},
          "text": {"field": "month"}
        }
      },
      {
        "data": {"values": [{"label": "Week Ending"}]},
        "mark": {"type": "text", "font": "Lato", "fontSize": 13.5, "fontWeight": "bold", "color": "#1a1a1a"},
        "encoding": {
          "x": {"datum": "2020-09-04", "type": "ordinal", "bandPosition": 0},
          "y": {"datum": "we", "type": "ordinal"},
          "text": {"field": "label"}
        }
      },
      {
        "data": {"values": [{"label": "2021"}]},
        "mark": {"type": "text", "font": "Lato", "fontSize": 11.5, "color": "#262626"},
        "encoding": {
          "x": {"datum": "2021-01-01", "type": "ordinal"},
          "y": {"datum": "we", "type": "ordinal"},
          "text": {"field": "label"}
        }
      },
      {
        "data": {"values": [{"label": "Time"}]},
        "mark": {"type": "point", "shape": "M-6.85,-0.75L4.85,-0.75L4.85,-1.1L6.85,0L4.85,1.1L4.85,0.75L-6.85,0.75Z", "size": 400, "filled": true, "fill": "#f3f3f3", "stroke": "#c4c4c4", "strokeWidth": 1, "opacity": 1, "xOffset": -8, "yOffset": 3.5},
        "encoding": {
          "x": {"datum": "2020-10-09", "type": "ordinal"},
          "y": {"datum": "we", "type": "ordinal"}
        }
      },
      {
        "data": {"values": [{"label": "Time"}]},
        "mark": {"type": "text", "font": "Lato", "fontSize": 11.5, "fontWeight": "bold", "color": "#1a1a1a", "xOffset": -14, "yOffset": 3.5},
        "encoding": {
          "x": {"datum": "2020-10-09", "type": "ordinal"},
          "y": {"datum": "we", "type": "ordinal"},
          "text": {"field": "label"}
        }
      },
      {
        "data": {"values": [{"label": "frame"}]},
        "mark": {"type": "rule", "color": "#c8c8c8", "strokeWidth": 1, "xOffset": 111.5, "yOffset": -14.75, "y2Offset": 17.75},
        "encoding": {"x": {"datum": "2021-01-29", "type": "ordinal", "bandPosition": 1}, "y": {"datum": "t1", "type": "ordinal"}, "y2": {"datum": "we"}}
      },
      {
        "data": {"values": [{"label": "frame"}]},
        "mark": {"type": "rule", "color": "#c8c8c8", "strokeWidth": 1, "xOffset": -78, "yOffset": 17.75, "x2Offset": 125},
        "encoding": {"x": {"datum": "2020-07-03", "type": "ordinal", "bandPosition": 0}, "x2": {"datum": "2021-01-29"}, "y": {"datum": "we", "type": "ordinal"}}
      }
    ]
  }
]
}
